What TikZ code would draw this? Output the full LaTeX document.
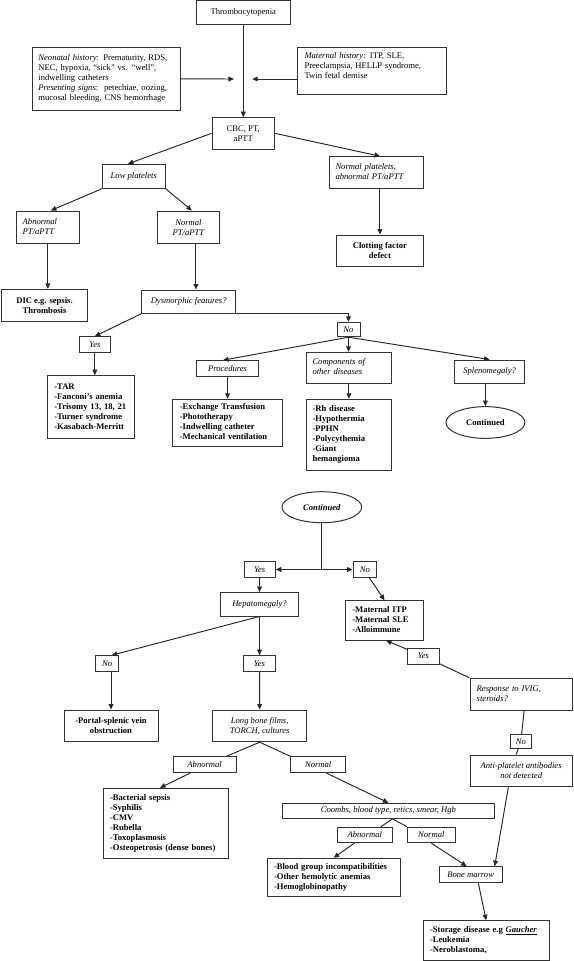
\documentclass[tikz,border=0pt]{standalone}
\usepackage{fontspec}
\setmainfont{Liberation Serif}
\usetikzlibrary{arrows.meta,shapes.geometric}
\newcommand\fs{\fontsize{8.6}{10}\selectfont}
\newcommand\TL[1]{\begin{tabular}{@{}l@{}}#1\end{tabular}}
\newcommand\BX[7]{\node[box,minimum width=#4pt,minimum height=#5pt,#6] (#1) at (#2,#3) {#7};}
\begin{document}
\begin{tikzpicture}[x=1pt,y=-1pt,
  box/.style={draw=black!80,line width=1pt,inner sep=0pt,font=\fs,text=black},
  it/.style={font=\fs\itshape},
  bf/.style={font=\fs\bfseries},
  ln/.style={draw=black!85,line width=0.95pt},
  arr/.style={ln,-{Triangle[length=5.5pt,width=4.8pt]}}]
\useasboundingbox (0,0) rectangle (573,961);

% ---------- part 1 ----------
\BX{thr}{243.25}{12.4}{93.9}{23.8}{}{Thrombocytopenia}
\BX{neo}{106.4}{78.85}{148.4}{62.3}{align=left,text width=136pt,inner xsep=6.2pt}{\TL{\textit{Neonatal history}: Prematurity, RDS,\\NEC, hypoxia, ``sick'' vs. ``well'',\\indwelling catheters\\\textit{Presenting signs}:\, petechiae, oozing,\\mucosal bleeding, CNS hemorrhage}}
\BX{mat}{372.1}{71.2}{148.4}{47}{align=left,text width=135.2pt,inner xsep=6.6pt}{\TL{\textit{Maternal history}: ITP, SLE,\\Preeclampsia, HELLP syndrome,\\Twin fetal demise\\ \strut}}
\BX{cbc}{243.25}{133.35}{62.5}{31.3}{align=center}{\TL{\hfil CBC, PT,\hfil\\\hfil aPTT\hfil\\[-3pt]}}
\BX{low}{133.75}{176.3}{62.9}{24}{it}{Low platelets}
\BX{np}{376.1}{172.5}{94.2}{31.6}{it,align=left,text width=81.2pt,inner xsep=6.5pt}{\TL{Normal platelets,\\abnormal PT/aPTT}}
\BX{clot}{379.9}{250.85}{86.6}{31.7}{bf,align=center}{Clotting factor\\defect}
\BX{abn1}{47.85}{227.15}{62.9}{32.3}{it,align=left,text width=50.3pt,inner xsep=6.3pt}{\TL{Abnormal\\PT/aPTT}}
\BX{nor1}{188.45}{227.15}{62.5}{32.3}{it,align=center}{Normal\\PT/aPTT}
\BX{dic}{44.5}{305.5}{85.6}{32.4}{bf,align=center}{DIC e.g. sepsis.\\Thrombosis}
\BX{dys}{188.7}{301.65}{94}{23.3}{it}{Dysmorphic features?}
\BX{yes1}{94.85}{344.5}{31.7}{15.6}{it}{Yes}
\BX{no1}{348.5}{329.5}{23}{14.4}{it}{No}
\BX{tar}{90.85}{407}{86.3}{62.6}{bf,align=left,text width=73.1pt,inner xsep=6.6pt}{\TL{-TAR\\-Fanconi's anemia\\-Trisomy 13, 18, 21\\-Turner syndrome\\-Kasabach-Merritt}}
\BX{proc}{227.55}{368.35}{62.5}{15.3}{it}{Procedures}
\BX{comp}{348.9}{367.8}{85.8}{31}{it,align=left,text width=72.8pt,inner xsep=6.5pt}{\TL{Components of\\other diseases}}
\BX{splen}{489.6}{371.65}{70.6}{23.3}{it}{Splenomegaly?}
\node[box,ellipse,minimum width=79pt,minimum height=31.7pt,bf] (cont1) at (485.4,422.5) {Continued};
\BX{exch}{227.55}{422.65}{109.3}{46.7}{bf,align=left,text width=95.5pt,inner xsep=6.9pt}{\TL{-Exchange Transfusion\\-Phototherapy\\-Indwelling catheter\\-Mechanical ventilation}}
\BX{rh}{348.9}{434.65}{85.8}{70.7}{bf,align=left,text width=72.8pt,inner xsep=6.5pt}{\TL{-Rh disease\\-Hypothermia\\-PPHN\\-Polycythemia\\-Giant\\hemangioma}}

\coordinate (ml) at (233.9,79);
\coordinate (mr) at (252.2,79);
\draw[arr] (thr) -- (cbc);
\draw[arr] (neo.east) -- (ml);
\draw[arr] (mr -| mat.west) -- (mr);
\draw[arr] (cbc.west) -- ([xshift=-5.8pt]low.north);
\draw[arr] (cbc.east) -- ([xshift=4pt]np.north);
\draw[arr] (clot.north |- np.south) -- (clot.north);
\draw[arr] (low.south west) -- ([xshift=3pt]abn1.north);
\draw[arr] (low.south east) -- ([xshift=3.5pt]nor1.north);
\draw[arr] (abn1.south) -- (abn1.south |- dic.north);
\coordinate (n1s) at ([xshift=7.5pt]nor1.south);
\draw[arr] (n1s) -- (n1s |- dys.north);
\draw[arr] (dys.south west) -- (yes1.north);
\draw[arr] (dys.south east) -| (no1.north);
\draw[arr] (yes1.south) -- (yes1.south |- tar.north);
\draw[arr] (no1.south) -- ([xshift=-4.5pt]proc.north);
\draw[arr] (no1.south) -- (no1.south |- comp.north);
\draw[arr] (no1.south) -- (splen.north);
\draw[arr] (proc) -- (exch);
\draw[arr] (comp) -- (rh);
\draw[arr] (cont1.north |- splen.south) -- (cont1.north);

% ---------- part 2 ----------
\node[box,ellipse,minimum width=79.7pt,minimum height=31pt,font=\fs\bfseries\itshape] (cont2) at (321.85,507.2) {Continued};
\BX{yes2}{259.65}{569.5}{31.3}{15.6}{it}{Yes}
\BX{no2}{364.85}{569.5}{23.7}{15.6}{it}{No}
\BX{hep}{259.5}{604.25}{78}{23.5}{it}{Hepatomegaly?}
\BX{mitp}{384.5}{620.35}{77.6}{39.3}{bf,align=left,text width=64.4pt,inner xsep=6.6pt}{\TL{-Maternal ITP\\-Maternal SLE\\-Alloimmune}}
\BX{no3}{107.2}{663.35}{23}{15.3}{it}{No}
\BX{yes3}{259.5}{663.35}{31.6}{15.3}{it}{Yes}
\BX{portal}{111}{725.85}{94}{31.7}{bf,align=center}{-Portal-splenic vein\\obstruction}
\BX{lbf}{259.7}{725.85}{94}{31.7}{it,align=center}{Long bone films,\\TORCH, cultures}
\BX{yes4}{423.35}{656.15}{31.3}{15.7}{it}{Yes}
\BX{resp}{521.15}{694.15}{102.3}{31.7}{it,align=left,text width=88.9pt,inner xsep=6.7pt}{\TL{Response to IVIG,\\steroids?}}
\BX{no4}{520.85}{741.3}{21.7}{14}{it}{No}
\BX{anti}{521.15}{770.85}{102.3}{31.7}{it,align=center}{Anti-platelet antibodies\\not detected}
\BX{abn3}{204.65}{764.7}{62.7}{16}{it}{Abnormal}
\BX{nor3}{318.2}{764.7}{55}{16}{it}{Normal}
\BX{bact}{165.8}{823.3}{125}{70}{bf,align=left,text width=111.6pt,inner xsep=6.7pt}{\TL{-Bacterial sepsis\\-Syphilis\\-CMV\\-Rubella\\-Toxoplasmosis\\-Osteopetrosis (dense bones)}}
\BX{coombs}{388.35}{810.8}{211.3}{15}{it}{Coombs, blood type, retics, smear, Hgb}
\BX{abn4}{364.8}{835}{55}{15.4}{it}{Abnormal}
\BX{nor4}{431.35}{835}{47.3}{15.4}{it}{Normal}
\BX{blood}{333.65}{877.5}{132.7}{38.4}{bf,align=left,text width=119.3pt,inner xsep=6.7pt}{\TL{-Blood group incompatibilities\\-Other hemolytic anemias\\-Hemoglobinopathy}}
\BX{bm}{470.65}{874.5}{62.7}{15.6}{it}{Bone marrow}
\BX{stor}{486.15}{940.5}{125.7}{39.6}{bf,align=left,text width=112.3pt,inner xsep=6.7pt}{\TL{-Storage disease e.g \underline{\textit{Gaucher}}\\-Leukemia\\-Neroblastoma,}}

\coordinate (sp) at (321.85,569.5);
\draw[ln] (cont2.south) -- (sp);
\draw[arr] (sp) -- (yes2.east);
\draw[arr] (sp) -- (no2.west);
\draw[arr] (yes2) -- (hep);
\draw[arr] ([xshift=4.5pt]no2.south) -- (mitp.north);
\draw[arr] (hep.south) -- ([xshift=4.5pt]no3.north);
\draw[arr] (hep) -- (yes3);
\draw[arr] (portal.north |- no3.south) -- (portal.north);
\draw[arr] (yes3) -- (lbf);
\draw[ln] (lbf.south) -- ([xshift=22pt]abn3.north);
\draw[ln] (lbf.south) -- (nor3.north west);
\draw[arr] ([xshift=-14.6pt]abn3.south) -- ([xshift=-5.8pt]bact.north);
\draw[arr] ([xshift=8.5pt]nor3.south) -- (coombs.north);
\coordinate (cs) at ([xshift=4pt]coombs.south);
\draw[ln] (cs) -- ([xshift=16pt]abn4.north);
\draw[ln] (cs) -- (nor4.north west);
\draw[arr] ([xshift=-10.5pt]abn4.south) -- (blood.north);
\draw[arr] (nor4.south) -- ([xshift=-4pt]bm.north);
\draw[arr] ([xshift=-12.8pt]anti.south) -- ([xshift=24pt]bm.north);
\draw[arr] ([xshift=7.6pt]bm.south) -- (stor.north);
\draw[ln] (resp.north west) -- (yes4);
\draw[arr] (yes4) -- ([xshift=1.5pt]mitp.south);
\draw[ln] ([xshift=3pt]resp.south) -- (no4);
\draw[ln] (no4) -- ([xshift=-5pt]anti.north);
\end{tikzpicture}
\end{document}
